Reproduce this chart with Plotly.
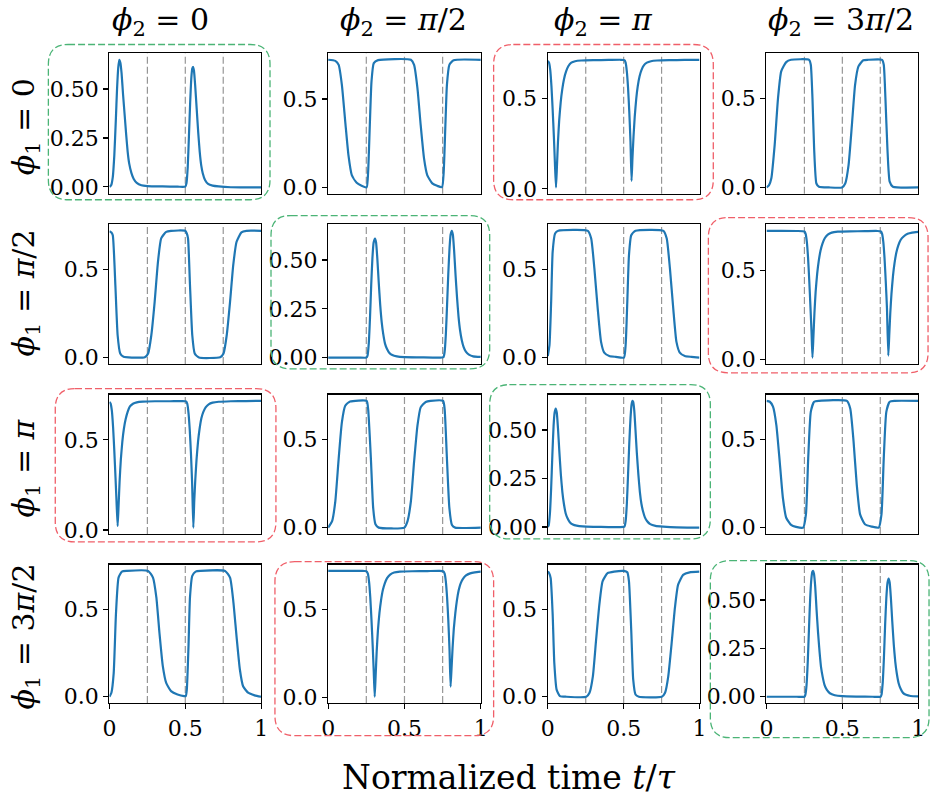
import plotly.graph_objects as go

# ---------------- data ----------------
COL_TITLES = ["<i>ϕ</i><sub>2</sub> = 0", "<i>ϕ</i><sub>2</sub> = <i>π</i>/2",
              "<i>ϕ</i><sub>2</sub> = <i>π</i>", "<i>ϕ</i><sub>2</sub> = 3<i>π</i>/2"]
ROW_TITLES = ["<i>ϕ</i><sub>1</sub> = 0", "<i>ϕ</i><sub>1</sub> = <i>π</i>/2",
              "<i>ϕ</i><sub>1</sub> = <i>π</i>", "<i>ϕ</i><sub>1</sub> = 3<i>π</i>/2"]
X_LABEL = "Normalized time <i>t</i>/<i>τ</i>"
X_TICKVALS = [0, 0.5, 1]
X_TICKTEXT = ["0", "0.5", "1"]
VLINES = [0.25, 0.5, 0.75]

# row 0
T00 = [0, 0.012, 0.022, 0.032, 0.042, 0.05, 0.058, 0.065, 0.072, 0.08, 0.09, 0.10, 0.11, 0.12, 0.13, 0.145,
       0.16, 0.18, 0.21, 0.25, 0.35, 0.45, 0.50, 0.508, 0.516, 0.524, 0.532, 0.54, 0.546, 0.551, 0.557, 0.565,
       0.575, 0.585, 0.595, 0.605, 0.615, 0.63, 0.65, 0.68, 0.72, 0.8, 0.9, 1.0]
Y00 = [0.0, 0.01, 0.05, 0.16, 0.34, 0.50, 0.61, 0.65, 0.635, 0.58, 0.47, 0.37, 0.27, 0.18, 0.12, 0.07,
       0.04, 0.02, 0.008, 0.004, 0.002, 0.001, 0.001, 0.02, 0.10, 0.26, 0.43, 0.56, 0.605, 0.614, 0.595, 0.52,
       0.40, 0.28, 0.18, 0.11, 0.07, 0.035, 0.015, 0.006, 0.002, -0.002, -0.003, -0.003]

T01 = [0, 0.047, 0.069, 0.090, 0.112, 0.133, 0.155, 0.187, 0.219, 0.252, 0.262, 0.273, 0.284, 0.299, 0.327,
       0.542, 0.563, 0.585, 0.606, 0.628, 0.649, 0.682, 0.714, 0.746, 0.757, 0.768, 0.778, 0.794, 0.822, 1.0]
Y01 = [0.721, 0.715, 0.692, 0.579, 0.372, 0.183, 0.070, 0.026, 0.009, 0.0, 0.089, 0.353, 0.598, 0.702, 0.719,
       0.721, 0.692, 0.560, 0.353, 0.164, 0.070, 0.023, 0.009, 0.002, 0.089, 0.353, 0.579, 0.692, 0.719, 0.721]

T02 = [0, 0.008, 0.016, 0.024, 0.032, 0.04, 0.047, 0.054, 0.06, 0.067, 0.075, 0.085, 0.095, 0.107, 0.12,
       0.135, 0.155, 0.18, 0.22, 0.3, 0.4, 0.48, 0.505, 0.513, 0.521, 0.529, 0.537, 0.545, 0.552, 0.558,
       0.565, 0.573, 0.583, 0.593, 0.605, 0.618, 0.633, 0.653, 0.68, 0.72, 0.8, 0.9, 1.0]
Y02 = [0.71, 0.70, 0.66, 0.57, 0.44, 0.29, 0.14, 0.008, 0.12, 0.26, 0.38, 0.48, 0.55, 0.61, 0.65,
       0.68, 0.70, 0.708, 0.712, 0.714, 0.715, 0.716, 0.714, 0.70, 0.65, 0.56, 0.43, 0.26, 0.044, 0.17,
       0.29, 0.40, 0.50, 0.57, 0.625, 0.66, 0.685, 0.70, 0.708, 0.712, 0.714, 0.715, 0.716]

T03 = [0, 0.017, 0.032, 0.054, 0.076, 0.097, 0.13, 0.162, 0.281, 0.292, 0.303, 0.314, 0.329, 0.346, 0.411,
       0.498, 0.519, 0.541, 0.563, 0.584, 0.606, 0.638, 0.671, 0.762, 0.773, 0.784, 0.797, 0.812, 0.833, 1.0]
Y03 = [0.0, 0.013, 0.051, 0.238, 0.50, 0.65, 0.702, 0.715, 0.715, 0.687, 0.50, 0.219, 0.022, 0.004, 0.0,
       0.0, 0.022, 0.125, 0.35, 0.575, 0.678, 0.712, 0.715, 0.715, 0.687, 0.50, 0.219, 0.032, 0.004, 0.0]

# row 1
T10 = [0, 0.013, 0.022, 0.039, 0.054, 0.071, 0.093, 0.147, 0.233, 0.255, 0.276, 0.298, 0.320, 0.341, 0.374,
       0.406, 0.499, 0.510, 0.518, 0.531, 0.546, 0.562, 0.590, 0.730, 0.752, 0.773, 0.795, 0.816, 0.838,
       0.870, 0.903, 1.0]
Y10 = [0.715, 0.708, 0.692, 0.409, 0.126, 0.023, 0.004, 0.0, 0.002, 0.023, 0.126, 0.315, 0.542, 0.674, 0.711,
       0.717, 0.717, 0.702, 0.674, 0.409, 0.126, 0.023, 0.0, 0.002, 0.023, 0.126, 0.315, 0.523, 0.655,
       0.708, 0.717, 0.717]

T11 = [0, 0.1, 0.2, 0.25, 0.258, 0.266, 0.274, 0.282, 0.29, 0.298, 0.307, 0.314, 0.322, 0.331, 0.341, 0.351,
       0.361, 0.373, 0.385, 0.4, 0.42, 0.45, 0.5, 0.6, 0.7, 0.755, 0.763, 0.771, 0.779, 0.787, 0.795, 0.802,
       0.81, 0.817, 0.825, 0.834, 0.844, 0.854, 0.864, 0.875, 0.887, 0.902, 0.922, 0.95, 1.0]
Y11 = [0.0, 0.0, 0.0, 0.0, 0.01, 0.07, 0.20, 0.37, 0.51, 0.59, 0.61, 0.59, 0.51, 0.39, 0.27, 0.18,
       0.12, 0.07, 0.045, 0.025, 0.013, 0.006, 0.002, 0.001, 0.0, 0.002, 0.03, 0.12, 0.27, 0.43, 0.56, 0.63,
       0.65, 0.63, 0.55, 0.43, 0.31, 0.21, 0.14, 0.09, 0.055, 0.03, 0.015, 0.006, 0.003]

T12 = [0, 0.011, 0.022, 0.032, 0.048, 0.069, 0.264, 0.286, 0.307, 0.329, 0.351, 0.372, 0.405, 0.448, 0.502,
       0.513, 0.524, 0.535, 0.550, 0.578, 0.762, 0.784, 0.805, 0.827, 0.848, 0.870, 0.903, 0.946, 1.0]
Y12 = [0.009, 0.07, 0.316, 0.60, 0.705, 0.72, 0.72, 0.676, 0.506, 0.278, 0.089, 0.028, 0.009, 0.004, 0.0,
       0.07, 0.316, 0.581, 0.695, 0.72, 0.72, 0.676, 0.506, 0.278, 0.089, 0.028, 0.009, 0.004, 0.0]

T13 = [0, 0.1, 0.2, 0.25, 0.258, 0.266, 0.274, 0.282, 0.29, 0.297, 0.303, 0.309, 0.316, 0.324, 0.334, 0.344,
       0.356, 0.369, 0.384, 0.404, 0.43, 0.47, 0.55, 0.65, 0.73, 0.754, 0.762, 0.770, 0.778, 0.786, 0.794,
       0.803, 0.809, 0.816, 0.824, 0.834, 0.844, 0.856, 0.869, 0.884, 0.904, 0.93, 0.96, 1.0]
Y13 = [0.722, 0.722, 0.721, 0.718, 0.705, 0.66, 0.57, 0.44, 0.29, 0.15, 0.009, 0.12, 0.26, 0.38, 0.48, 0.55,
       0.61, 0.65, 0.68, 0.70, 0.712, 0.717, 0.719, 0.72, 0.721, 0.718, 0.705, 0.66, 0.57, 0.44, 0.29,
       0.02, 0.13, 0.26, 0.37, 0.47, 0.54, 0.60, 0.64, 0.67, 0.69, 0.705, 0.712, 0.716]

# row 2
T20 = [0, 0.008, 0.016, 0.024, 0.032, 0.04, 0.047, 0.054, 0.06, 0.067, 0.075, 0.085, 0.095, 0.107, 0.12,
       0.135, 0.155, 0.18, 0.22, 0.3, 0.4, 0.48, 0.505, 0.513, 0.521, 0.529, 0.537, 0.545, 0.553, 0.559,
       0.566, 0.574, 0.584, 0.594, 0.606, 0.619, 0.634, 0.654, 0.68, 0.72, 0.8, 0.9, 1.0]
Y20 = [0.71, 0.70, 0.66, 0.57, 0.44, 0.29, 0.15, 0.022, 0.13, 0.27, 0.39, 0.49, 0.56, 0.615, 0.655,
       0.685, 0.70, 0.708, 0.712, 0.714, 0.714, 0.715, 0.713, 0.70, 0.65, 0.56, 0.43, 0.26, 0.013, 0.16,
       0.28, 0.39, 0.49, 0.56, 0.62, 0.655, 0.68, 0.697, 0.706, 0.711, 0.714, 0.715, 0.716]

T21 = [0, 0.026, 0.047, 0.069, 0.090, 0.112, 0.144, 0.252, 0.262, 0.280, 0.295, 0.310, 0.331, 0.499, 0.520,
       0.542, 0.563, 0.585, 0.606, 0.639, 0.671, 0.753, 0.763, 0.778, 0.794, 0.811, 0.832, 1.0]
Y21 = [0.0, 0.037, 0.15, 0.393, 0.599, 0.693, 0.717, 0.721, 0.674, 0.393, 0.112, 0.019, 0.0, 0.0, 0.037,
       0.15, 0.375, 0.58, 0.684, 0.715, 0.721, 0.721, 0.674, 0.393, 0.112, 0.015, 0.0, 0.0]

T22 = [0, 0.006, 0.014, 0.022, 0.03, 0.038, 0.045, 0.052, 0.059, 0.067, 0.076, 0.086, 0.096, 0.106, 0.118,
       0.13, 0.145, 0.165, 0.19, 0.23, 0.3, 0.4, 0.47, 0.505, 0.513, 0.521, 0.529, 0.537, 0.545, 0.552,
       0.558, 0.563, 0.57, 0.578, 0.587, 0.597, 0.607, 0.617, 0.628, 0.64, 0.655, 0.675, 0.71, 0.76, 0.85, 1.0]
Y22 = [0.0, 0.01, 0.07, 0.20, 0.37, 0.52, 0.59, 0.61, 0.59, 0.51, 0.39, 0.27, 0.18, 0.12, 0.07,
       0.045, 0.025, 0.013, 0.007, 0.003, 0.001, 0.0, 0.0, 0.002, 0.03, 0.12, 0.27, 0.43, 0.56, 0.63,
       0.65, 0.645, 0.60, 0.50, 0.38, 0.27, 0.18, 0.12, 0.08, 0.05, 0.03, 0.015, 0.006, 0.002, -0.002, -0.003]

T23 = [0, 0.022, 0.043, 0.065, 0.087, 0.108, 0.130, 0.162, 0.195, 0.242, 0.26, 0.275, 0.292, 0.314, 0.346,
       0.530, 0.552, 0.574, 0.595, 0.617, 0.649, 0.693, 0.740, 0.758, 0.773, 0.790, 0.812, 0.844, 1.0]
Y23 = [0.717, 0.712, 0.684, 0.58, 0.375, 0.169, 0.056, 0.015, 0.004, 0.0, 0.075, 0.393, 0.655, 0.712, 0.717,
       0.717, 0.674, 0.487, 0.243, 0.075, 0.019, 0.006, 0.0, 0.075, 0.393, 0.655, 0.712, 0.717, 0.717]

# row 3
T30 = [0, 0.013, 0.028, 0.043, 0.060, 0.082, 0.114, 0.255, 0.287, 0.309, 0.330, 0.352, 0.374, 0.406, 0.449,
       0.492, 0.503, 0.510, 0.521, 0.531, 0.546, 0.568, 0.600, 0.762, 0.795, 0.816, 0.838, 0.860, 0.881,
       0.914, 0.957, 1.0]
Y30 = [0.0, 0.023, 0.135, 0.474, 0.680, 0.714, 0.718, 0.718, 0.680, 0.568, 0.361, 0.173, 0.079, 0.032, 0.013,
       0.004, 0.004, 0.041, 0.286, 0.568, 0.690, 0.714, 0.718, 0.718, 0.680, 0.549, 0.342, 0.154, 0.060,
       0.023, 0.008, 0.0]

T31 = [0, 0.1, 0.2, 0.25, 0.26, 0.268, 0.276, 0.284, 0.292, 0.299, 0.305, 0.311, 0.318, 0.326, 0.336, 0.346,
       0.358, 0.371, 0.386, 0.406, 0.432, 0.47, 0.55, 0.65, 0.73, 0.755, 0.763, 0.771, 0.779, 0.787, 0.795,
       0.802, 0.808, 0.815, 0.823, 0.833, 0.843, 0.855, 0.868, 0.883, 0.903, 0.93, 0.96, 1.0]
Y31 = [0.721, 0.721, 0.721, 0.72, 0.705, 0.66, 0.57, 0.44, 0.29, 0.14, 0.002, 0.12, 0.26, 0.38, 0.48, 0.55,
       0.61, 0.65, 0.68, 0.70, 0.712, 0.717, 0.719, 0.72, 0.721, 0.718, 0.705, 0.66, 0.57, 0.44, 0.27,
       0.06, 0.16, 0.28, 0.39, 0.48, 0.55, 0.61, 0.65, 0.675, 0.695, 0.707, 0.713, 0.717]

T32 = [0, 0.009, 0.019, 0.032, 0.043, 0.058, 0.080, 0.123, 0.253, 0.275, 0.297, 0.318, 0.340, 0.361, 0.394,
       0.437, 0.502, 0.524, 0.535, 0.550, 0.563, 0.578, 0.600, 0.751, 0.773, 0.794, 0.816, 0.838, 0.859,
       0.892, 0.935, 1.0]
Y32 = [0.718, 0.709, 0.680, 0.474, 0.192, 0.041, 0.004, 0.0, 0.0, 0.023, 0.117, 0.323, 0.530, 0.662, 0.709,
       0.718, 0.722, 0.714, 0.662, 0.380, 0.098, 0.013, 0.0, 0.0, 0.023, 0.117, 0.305, 0.511, 0.643,
       0.699, 0.714, 0.718]

T33 = [0, 0.1, 0.2, 0.25, 0.256, 0.264, 0.272, 0.28, 0.288, 0.296, 0.302, 0.307, 0.313, 0.321, 0.33, 0.34,
       0.35, 0.36, 0.371, 0.383, 0.398, 0.418, 0.45, 0.5, 0.6, 0.7, 0.752, 0.758, 0.766, 0.774, 0.782, 0.79,
       0.798, 0.805, 0.812, 0.82, 0.829, 0.839, 0.849, 0.859, 0.871, 0.885, 0.9, 0.92, 0.95, 1.0]
Y33 = [0.0, 0.0, 0.0, 0.0, 0.01, 0.06, 0.18, 0.35, 0.51, 0.61, 0.645, 0.65, 0.635, 0.57, 0.45, 0.33,
       0.23, 0.15, 0.10, 0.06, 0.035, 0.018, 0.008, 0.003, 0.001, 0.0, 0.0, 0.01, 0.07, 0.20, 0.37, 0.51,
       0.59, 0.61, 0.59, 0.51, 0.39, 0.27, 0.18, 0.12, 0.07, 0.04, 0.02, 0.01, 0.004, 0.002]

SERIES = {
    (0, 0): (T00, Y00), (0, 1): (T01, Y01), (0, 2): (T02, Y02), (0, 3): (T03, Y03),
    (1, 0): (T10, Y10), (1, 1): (T11, Y11), (1, 2): (T12, Y12), (1, 3): (T13, Y13),
    (2, 0): (T20, Y20), (2, 1): (T21, Y21), (2, 2): (T22, Y22), (2, 3): (T23, Y23),
    (3, 0): (T30, Y30), (3, 1): (T31, Y31), (3, 2): (T32, Y32), (3, 3): (T33, Y33),
}
GREEN_CELLS = [(0, 0), (1, 1), (2, 2), (3, 3)]
RED_CELLS = [(0, 2), (1, 3), (2, 0), (3, 1)]

# ---------------- layout / style ----------------
W, H = 938, 805
COLS_PX = [(104, 258), (326, 481), (549, 703), (771, 925)]
ROWS_PX = [(54, 196), (227, 368), (399, 540), (571, 711)]
FONT = "DejaVu Serif"
BLUE = "#1f77b4"
GREEN = "rgb(75,180,118)"
RED = "rgb(240,95,105)"
GRAY = "rgb(150,150,150)"

BOXES = {  # pixel extents of rounded highlight frames
    (0, 0): (42, 45, 267, 202), (0, 2): (494, 45, 717, 202),
    (1, 1): (268, 218, 490, 373), (1, 3): (712, 220, 935, 377),
    (2, 0): (49, 393, 273, 548), (2, 2): (490, 389, 714, 545),
    (3, 1): (272, 568, 494, 744), (3, 3): (714, 567, 936, 746),
}


def px(x):
    return x / W


def py(y):
    return 1 - y / H


fig = go.Figure()
layout = {}
shapes = []
for r in range(4):
    for c in range(4):
        k = r * 4 + c + 1
        sfx = "" if k == 1 else str(k)
        T, Y = SERIES[(r, c)]
        fig.add_trace(go.Scatter(
            x=T, y=Y, xaxis="x" + sfx, yaxis="y" + sfx, mode="lines",
            line=dict(color=BLUE, width=2.2, shape="spline", smoothing=0.5),
            showlegend=False, hoverinfo="skip"))
        lo, hi = min(Y), max(Y)
        pad = 0.05 * (hi - lo)
        green = (r, c) in GREEN_CELLS
        if green:
            ytv, ytt = [0, 0.25, 0.5], ["0.00", "0.25", "0.50"]
        else:
            ytv, ytt = [0, 0.5], ["0.0", "0.5"]
        x0, x1 = COLS_PX[c]
        y0, y1 = ROWS_PX[r]
        common = dict(showgrid=False, zeroline=False, showline=True, linecolor="black",
                      linewidth=1.3, mirror=True, tickcolor="black", tickwidth=1.2,
                      ticklen=5, tickfont=dict(family=FONT, size=22, color="black"))
        bottom = (r == 3)
        layout["xaxis" + sfx] = dict(
            domain=[px(x0), px(x1)], anchor="y" + sfx, range=[0, 1],
            tickvals=X_TICKVALS, ticktext=X_TICKTEXT,
            showticklabels=bottom, ticks="outside" if bottom else "", **common)
        layout["yaxis" + sfx] = dict(
            domain=[py(y1), py(y0)], anchor="x" + sfx, range=[lo - pad, hi + pad],
            tickvals=ytv, ticktext=ytt, ticks="outside", **common)
        for v in VLINES:
            shapes.append(dict(type="line", xref="x" + sfx, yref="y" + sfx + " domain",
                               x0=v, x1=v, y0=0, y1=1, layer="below",
                               line=dict(color=GRAY, width=1.2, dash="7px,3px")))


def rounded_path(x0, y0, x1, y1, rad):
    pts = [
        f"M {px(x0 + rad)} {py(y0)}",
        f"L {px(x1 - rad)} {py(y0)}",
        f"Q {px(x1)} {py(y0)} {px(x1)} {py(y0 + rad)}",
        f"L {px(x1)} {py(y1 - rad)}",
        f"Q {px(x1)} {py(y1)} {px(x1 - rad)} {py(y1)}",
        f"L {px(x0 + rad)} {py(y1)}",
        f"Q {px(x0)} {py(y1)} {px(x0)} {py(y1 - rad)}",
        f"L {px(x0)} {py(y0 + rad)}",
        f"Q {px(x0)} {py(y0)} {px(x0 + rad)} {py(y0)}",
        "Z",
    ]
    return " ".join(pts)


for cell, (bx0, by0, bx1, by1) in BOXES.items():
    col = GREEN if cell in GREEN_CELLS else RED
    shapes.append(dict(type="path", xref="paper", yref="paper",
                       path=rounded_path(bx0, by0, bx1, by1, 20),
                       line=dict(color=col, width=1.3, dash="7px,3px"),
                       fillcolor="rgba(0,0,0,0)", layer="above"))

annotations = []
TITLE_X = [156, 403, 606, 847]
for c in range(4):
    annotations.append(dict(text=COL_TITLES[c], x=px(TITLE_X[c]), y=py(22), xref="paper", yref="paper",
                            showarrow=False, xanchor="center", yanchor="middle",
                            font=dict(family=FONT, size=30, color="black")))
ROW_Y = [128, 296, 473, 644]
for r in range(4):
    annotations.append(dict(text=ROW_TITLES[r], x=px(19), y=py(ROW_Y[r]), xref="paper", yref="paper",
                            showarrow=False, xanchor="center", yanchor="middle", textangle=-90,
                            font=dict(family=FONT, size=30, color="black")))
annotations.append(dict(text=X_LABEL, x=px(510), y=py(786), xref="paper", yref="paper",
                        showarrow=False, xanchor="center", yanchor="middle",
                        font=dict(family=FONT, size=33, color="black")))

fig.update_layout(width=W, height=H, margin=dict(l=0, r=0, t=0, b=0),
                  paper_bgcolor="white", plot_bgcolor="white", hovermode=False,
                  shapes=shapes, annotations=annotations, **layout)
fig.write_html("out.html", config={"displayModeBar": False, "staticPlot": True},
               post_script="document.body.style.margin='0px';document.body.style.overflow='hidden';")
